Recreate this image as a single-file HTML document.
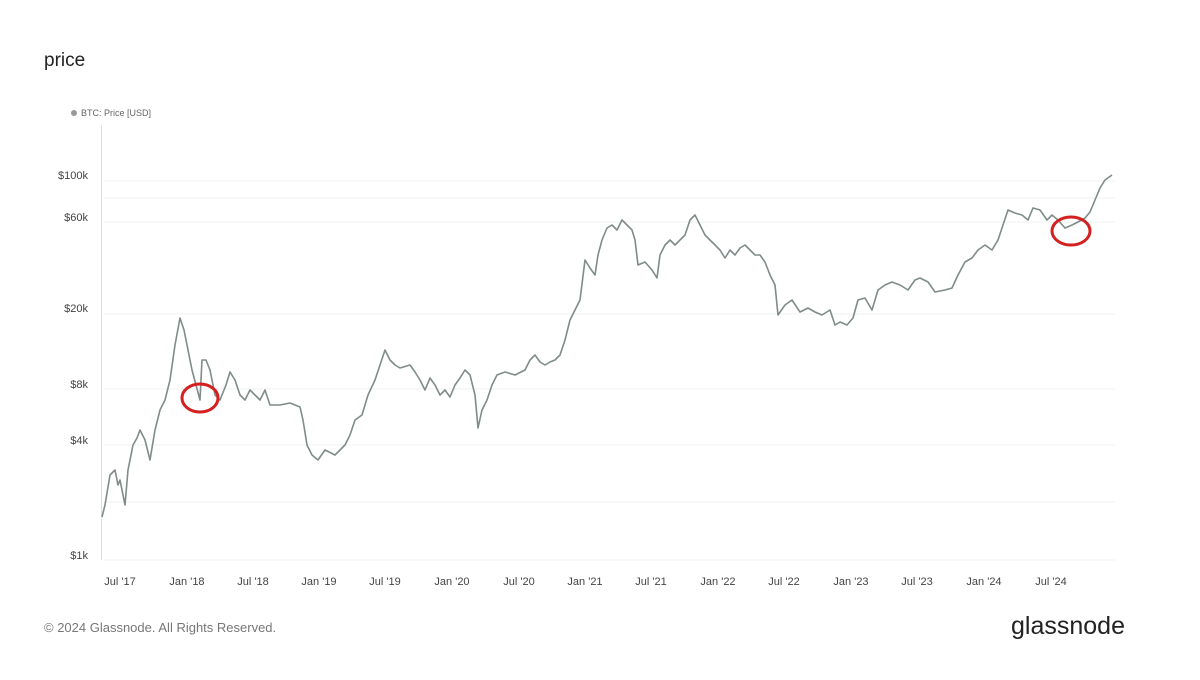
<!DOCTYPE html>
<html><head><meta charset="utf-8"><style>
body{margin:0;background:#fff;width:1200px;height:675px;overflow:hidden;font-family:"Liberation Sans",sans-serif}
</style></head><body>
<svg width="1200" height="675" xmlns="http://www.w3.org/2000/svg" font-family="Liberation Sans, sans-serif">
<text x="44" y="66" font-size="19" fill="#222">price</text>
<circle cx="74" cy="113" r="3" fill="#999"/>
<text x="81" y="116" font-size="9" fill="#666">BTC: Price [USD]</text>
<g stroke="#f0f0f0" stroke-width="1">
<line x1="103" y1="181" x2="1115" y2="181"/><line x1="103" y1="198" x2="1115" y2="198"/>
<line x1="103" y1="222" x2="1115" y2="222"/><line x1="103" y1="314" x2="1115" y2="314"/>
<line x1="103" y1="389" x2="1115" y2="389"/><line x1="103" y1="445" x2="1115" y2="445"/>
<line x1="103" y1="502" x2="1115" y2="502"/><line x1="103" y1="560" x2="1115" y2="560"/>
</g>
<line x1="101.5" y1="125" x2="101.5" y2="560" stroke="#ddd"/>
<g font-size="11" fill="#444" text-anchor="end">
<text x="88" y="179">$100k</text><text x="88" y="221">$60k</text><text x="88" y="312">$20k</text>
<text x="88" y="388">$8k</text><text x="88" y="444">$4k</text><text x="88" y="559">$1k</text>
</g>
<g font-size="11" fill="#444" text-anchor="middle">
<text x="120" y="585">Jul '17</text><text x="187" y="585">Jan '18</text><text x="253" y="585">Jul '18</text>
<text x="319" y="585">Jan '19</text><text x="385" y="585">Jul '19</text><text x="452" y="585">Jan '20</text>
<text x="519" y="585">Jul '20</text><text x="585" y="585">Jan '21</text><text x="651" y="585">Jul '21</text>
<text x="718" y="585">Jan '22</text><text x="784" y="585">Jul '22</text><text x="851" y="585">Jan '23</text>
<text x="917" y="585">Jul '23</text><text x="984" y="585">Jan '24</text><text x="1051" y="585">Jul '24</text>
</g>
<polyline fill="none" stroke="#7f8c8a" stroke-width="1.6" stroke-linejoin="round" points="102,517 105,505 110,475 115,470 118,485 120,480 125,505 128,470 133,445 137,438 140,430 145,440 150,460 155,430 160,410 165,400 170,380 175,345 180,318 184,330 188,350 192,370 196,385 200,400 202,360 206,360 210,370 215,395 220,400 226,385 230,372 235,380 240,395 245,400 250,390 255,395 260,400 265,390 270,405 280,405 290,403 300,407 303,420 307,445 312,455 318,460 325,450 335,455 345,445 350,435 355,420 362,415 368,395 375,380 380,365 385,350 390,360 395,365 400,368 410,365 415,372 420,380 425,390 430,378 435,385 440,395 445,390 450,397 455,385 460,378 465,370 470,375 475,395 478,428 482,410 487,400 492,385 497,375 505,372 515,375 525,370 530,360 535,355 540,362 545,365 550,362 555,360 560,355 565,340 570,320 575,310 580,300 585,260 590,268 595,275 598,255 602,240 607,228 612,225 617,230 622,220 627,225 632,230 635,240 638,265 645,262 652,270 657,278 660,255 665,245 670,240 675,245 680,240 685,235 690,220 695,215 700,225 705,235 710,240 715,245 720,250 725,258 730,250 735,255 740,248 745,245 750,250 755,255 760,255 765,262 770,275 775,285 778,315 785,305 792,300 800,312 808,308 815,312 822,315 830,310 835,325 840,322 847,325 853,318 858,300 865,298 872,310 878,290 885,285 892,282 900,285 908,290 915,280 920,278 928,282 935,292 945,290 952,288 958,275 965,262 972,258 978,250 985,245 992,250 998,240 1003,225 1008,210 1015,213 1022,215 1028,220 1033,208 1040,210 1047,220 1052,215 1058,220 1065,228 1072,225 1078,222 1085,218 1090,212 1095,200 1100,188 1105,180 1112,175"/>
<ellipse cx="200" cy="398" rx="18" ry="14" fill="none" stroke="#d42020" stroke-width="3"/>
<ellipse cx="1071" cy="231" rx="19" ry="14" fill="none" stroke="#d42020" stroke-width="3"/>
<text x="44" y="632" font-size="13" fill="#777">© 2024 Glassnode. All Rights Reserved.</text>
<text x="1125" y="634" font-size="25" fill="#222" text-anchor="end">glassnode</text>
</svg>
</body></html>
